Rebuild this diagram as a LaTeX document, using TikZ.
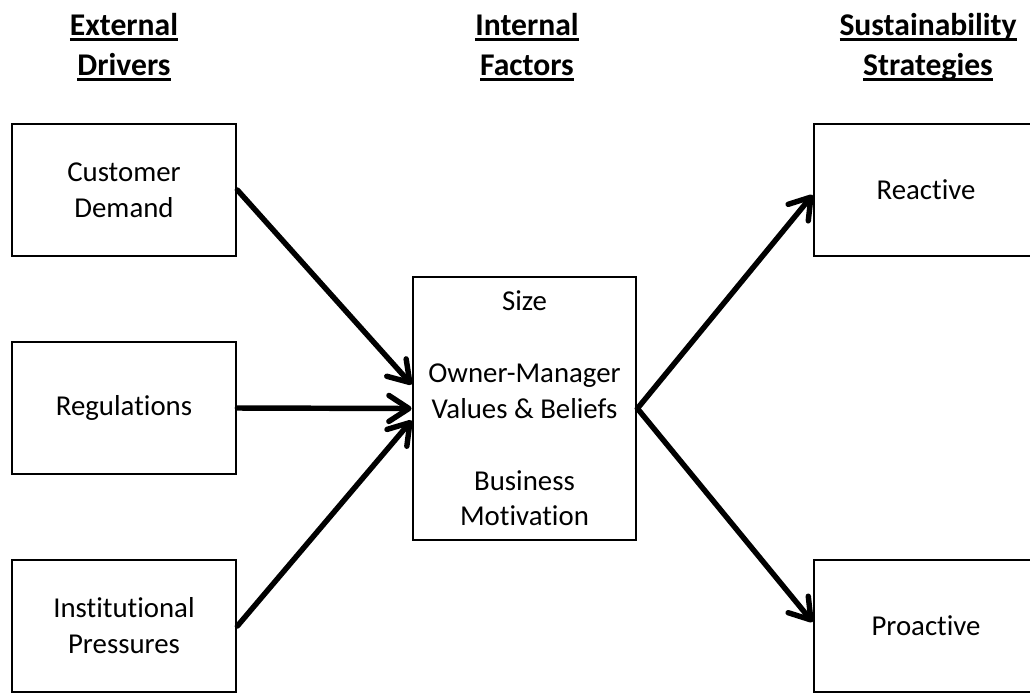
\documentclass[tikz,border=0pt]{standalone}
\usepackage{fontspec}
\setmainfont[Ligatures=NoCommon]{Carlito}
\usetikzlibrary{arrows.meta,positioning,calc}
\newcommand{\headul}[1]{\setbox0\hbox{#1}\leavevmode\rlap{\rule[-3.4pt]{\wd0}{1.7pt}}\box0}

\begin{document}
\begin{tikzpicture}[
    x=0.02cm, y=-0.02cm,
    factor/.style={rectangle, draw, line width=1.6pt, minimum width=4.48cm, minimum height=2.64cm, align=center, inner sep=0pt, font=\fontsize{16.4pt}{20.4pt}\selectfont},
    heading/.style={align=center, font=\fontsize{18pt}{22.7pt}\selectfont\bfseries},
    link/.style={-{Straight Barb[length=0.4cm,width=0.52cm,round]}, line width=3.1pt, line cap=round}
]
    \useasboundingbox (0,0) rectangle (1030,694);

    % column headings
    \node[heading] (hext) at (124,47) {\headul{External}\\\headul{Drivers}};
    \node[heading] (hint) at (527,47) {\headul{Internal}\\\headul{Factors}};
    \node[heading] (hsus) at (928,47) {\headul{Sustainability}\\\headul{Strategies}};

    % external drivers
    \node[factor] (demand) at (124,190) {Customer\\Demand};
    \node[factor] (regs) at (124,408) {Regulations};
    \node[factor] (inst) at (124,626) {Institutional\\Pressures};

    % internal factors
    \node[factor, minimum width=4.46cm, minimum height=5.26cm] (internal) at (524.5,408.5)
        {Size\\[20.4pt]Owner-Manager\\Values \& Beliefs\\[20.4pt]Business\\Motivation};

    % strategies
    \node[factor] (reactive) at (926,190) {Reactive};
    \node[factor] (proactive) at (926,626) {Proactive};

    % drivers into the firm
    \draw[link] (demand.east) -- ([yshift=0.48cm]internal.west);
    \draw[link] (regs.east) -- (internal.west);
    \draw[link] (inst.east) -- ([yshift=-0.24cm]internal.west);

    % firm to strategies
    \draw[link] (internal.east) -- ([yshift=-0.1cm]reactive.west);
    \draw[link] (internal.east) -- ([yshift=0.08cm]proactive.west);
\end{tikzpicture}
\end{document}
